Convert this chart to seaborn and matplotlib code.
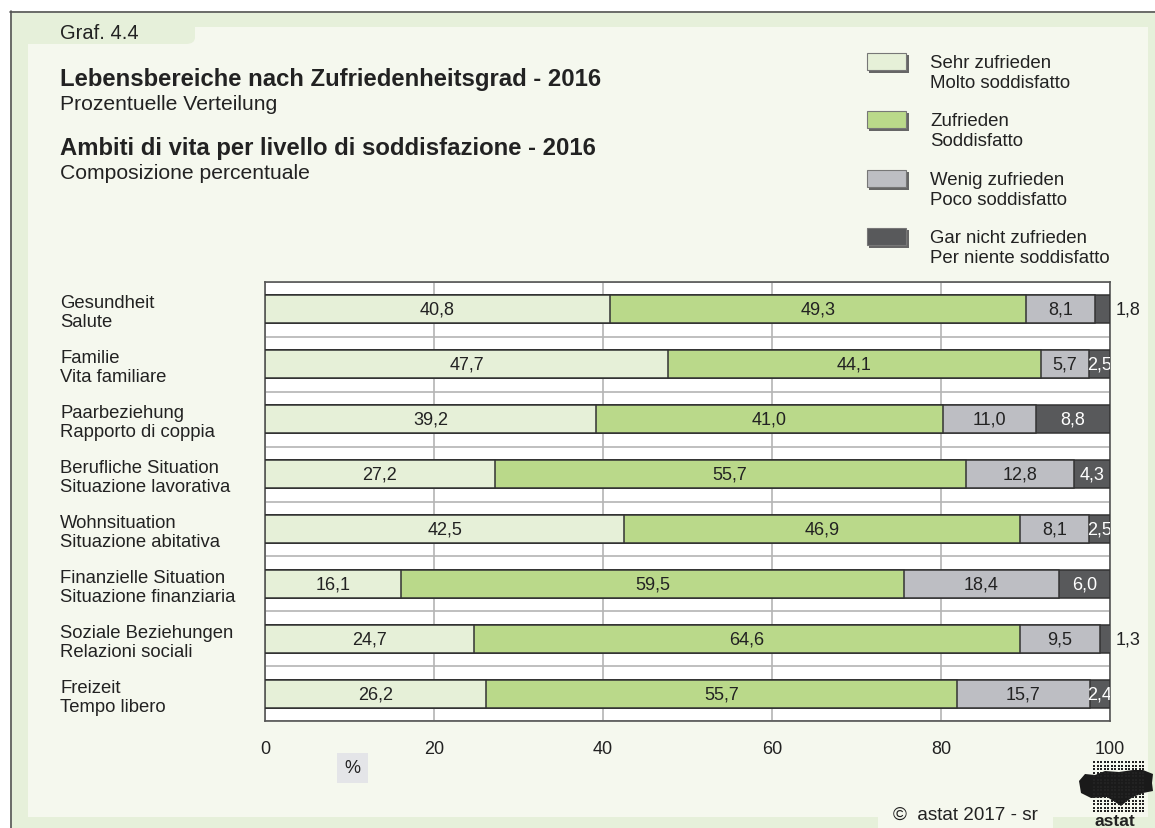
import numpy as np
import pandas as pd
import matplotlib
matplotlib.use("Agg")
import matplotlib.pyplot as plt
import seaborn as sns
from matplotlib.patches import Rectangle, FancyBboxPatch, Polygon

# --- data -------------------------------------------------------------
areas_de = ["Gesundheit", "Familie", "Paarbeziehung", "Berufliche Situation",
            "Wohnsituation", "Finanzielle Situation", "Soziale Beziehungen", "Freizeit"]
areas_it = ["Salute", "Vita familiare", "Rapporto di coppia", "Situazione lavorativa",
            "Situazione abitativa", "Situazione finanziaria", "Relazioni sociali", "Tempo libero"]

sehr_zufrieden = [40.8, 47.7, 39.2, 27.2, 42.5, 16.1, 24.7, 26.2]
zufrieden      = [49.3, 44.1, 41.0, 55.7, 46.9, 59.5, 64.6, 55.7]
wenig_zufrieden = [8.1, 5.7, 11.0, 12.8, 8.1, 18.4, 9.5, 15.7]
gar_nicht      = [1.8, 2.5, 8.8, 4.3, 2.5, 6.0, 1.3, 2.4]

levels_de = ["Sehr zufrieden", "Zufrieden", "Wenig zufrieden", "Gar nicht zufrieden"]
levels_it = ["Molto soddisfatto", "Soddisfatto", "Poco soddisfatto", "Per niente soddisfatto"]
level_colors = ["#E6F0D8", "#BAD98A", "#BDBEC3", "#58595B"]
label_colors = ["#222222", "#222222", "#222222", "#FFFFFF"]

x_ticks = [0, 20, 40, 60, 80, 100]

# --- styling ----------------------------------------------------------
sns.set_theme(style="white")
plt.rcParams["font.family"] = ["Liberation Sans", "DejaVu Sans"]
FS = 13
TXT = "#222222"

W, H = 1155, 829
fig = plt.figure(figsize=(W / 100, H / 100), dpi=100)
fig.patch.set_facecolor("white")

def fx(px):
    return px / W

def fy(py):
    return 1 - py / H

OUTER = "#E6F0DA"
PANEL = "#F5F8EE"

def fig_rect(x0, y0, x1, y1, z, **kw):
    """Rectangle given by pixel corners (top-left origin)."""
    p = Rectangle((fx(x0), fy(y1)), fx(x1 - x0), fy(y0) - fy(y1),
                  transform=fig.transFigure, zorder=z, **kw)
    fig.patches.append(p)
    return p

def fig_round(x0, y0, x1, y1, z, color):
    p = FancyBboxPatch((fx(x0), fy(y1)), fx(x1 - x0), fy(y0) - fy(y1),
                       boxstyle="round,pad=0,rounding_size=0.008",
                       transform=fig.transFigure, facecolor=color,
                       edgecolor="none", zorder=z)
    fig.patches.append(p)
    return p

# outer frame and inner panel
fig_rect(10, 12, 1155, 829, -5, facecolor=OUTER, edgecolor="none")
fig.lines.append(plt.Line2D([fx(10.5), fx(10.5)], [fy(12), fy(829)], color="#555555",
                            lw=1.2, transform=fig.transFigure, zorder=-1))
fig.lines.append(plt.Line2D([fx(10), fx(1155)], [fy(12.5), fy(12.5)], color="#555555",
                            lw=1.2, transform=fig.transFigure, zorder=-1))
fig_rect(28, 28, 1148, 818, -4, facecolor=PANEL, edgecolor="none")
# tab carrying the chart number
fig_round(20, 18, 195, 45, -3, OUTER)
# tab carrying the copyright
fig_round(878, 795, 1053, 840, -3, PANEL)

# --- header texts -----------------------------------------------------
fig.text(fx(60), fy(39), "Graf. 4.4", fontsize=14.5, color=TXT, va="baseline")
fig.text(fx(60), fy(86), "Lebensbereiche nach Zufriedenheitsgrad - 2016",
         fontsize=17.2, fontweight="bold", color=TXT, va="baseline")
fig.text(fx(60), fy(110), "Prozentuelle Verteilung", fontsize=15.2, color=TXT, va="baseline")
fig.text(fx(60), fy(155), "Ambiti di vita per livello di soddisfazione - 2016",
         fontsize=17.2, fontweight="bold", color=TXT, va="baseline")
fig.text(fx(60), fy(179), "Composizione percentuale", fontsize=15.2, color=TXT, va="baseline")

# --- legend -----------------------------------------------------------
for i, (de, it, col) in enumerate(zip(levels_de, levels_it, level_colors)):
    top = 54 + i * 58.3
    # drop shadow
    fig_rect(869, top + 2, 909, top + 20, 2, facecolor="#666666", edgecolor="none")
    fig_rect(867, top, 906, top + 17, 3, facecolor=col, edgecolor="#777777", lw=0.8)
    fig.text(fx(930), fy(top + 14), de, fontsize=13.4, color=TXT, va="baseline")
    fig.text(fx(930), fy(top + 34), it, fontsize=13.4, color=TXT, va="baseline")

# --- bar chart --------------------------------------------------------
ax = fig.add_axes([fx(265), fy(722), fx(1110 - 265), fy(283) - fy(722)])
ax.set_zorder(1)
ax.set_facecolor("white")

labels = [f"{d}\n{i}" for d, i in zip(areas_de, areas_it)]
segments = [sehr_zufrieden, zufrieden, wenig_zufrieden, gar_nicht]
cum = np.cumsum(np.array(segments), axis=0)

df = pd.DataFrame({"area": labels})
for k in range(4):
    df[f"c{k}"] = cum[k]

# stack by overlaying cumulative totals, widest first
for k in range(3, -1, -1):
    sns.barplot(data=df, x=f"c{k}", y="area", orient="h", color=level_colors[k],
                saturation=1, width=0.51, edgecolor="#333333", linewidth=1.1,
                errorbar=None, ax=ax, zorder=3)

# value labels
for k in range(4):
    for r in range(len(labels)):
        v = segments[k][r]
        start = cum[k][r] - v
        txt = f"{v:.1f}".replace(".", ",")
        if k == 3 and v < 2:
            ax.text(min(cum[k][r], 100) + 0.7, r, txt, ha="left", va="center",
                    fontsize=FS, color=TXT, clip_on=False, zorder=5)
        else:
            ax.text(start + v / 2, r, txt, ha="center", va="center",
                    fontsize=FS, color=label_colors[k], clip_on=True, zorder=5)

ax.set_xlim(0, 100)
ax.set_ylim(len(labels) - 0.5, -0.5)
ax.set_xticks(x_ticks)
ax.set_xticklabels([str(t) for t in x_ticks], fontsize=FS, color=TXT)
ax.set_yticks(range(len(labels)))
ax.set_yticklabels(labels, fontsize=13.3, color=TXT, ha="left", linespacing=1.15)
ax.set_yticks(np.arange(-0.5, len(labels), 1.0), minor=True)
ax.tick_params(axis="y", which="major", length=0, pad=(265 - 60) * 0.72)
ax.tick_params(axis="x", length=0, pad=14)
ax.tick_params(axis="y", which="minor", length=0)
ax.set_xlabel("")
ax.set_ylabel("")

ax.set_axisbelow(True)
ax.grid(False)
ax.grid(axis="x", which="major", color="#B4B4B4", lw=1.2, zorder=0)
ax.grid(axis="y", which="minor", color="#B4B4B4", lw=1.2, zorder=0)
for s in ax.spines.values():
    s.set_color("#555555")
    s.set_linewidth(1.2)
    s.set_visible(True)

# unit box
fig_rect(337, 754, 368, 784, 2, facecolor="#E4E5E8", edgecolor="none")
fig.text(fx(352.5), fy(769), "%", fontsize=FS, color=TXT, ha="center", va="center")

# copyright
fig.text(fx(893), fy(820), "©  astat 2017 - sr", fontsize=13.6, color=TXT, va="baseline")

# --- logo -------------------------------------------------------------
logo = fig.add_axes([fx(1075), fy(829), fx(80), fy(758) - fy(829)])
logo.set_zorder(1)
logo.set_xlim(0, 80)
logo.set_ylim(71, 0)
logo.axis("off")
logo.add_patch(Polygon([(4, 24), (10, 17), (20, 18), (30, 14), (44, 15), (58, 13),
                        (68, 13), (78, 17), (77, 26), (78, 34), (68, 36), (58, 40),
                        (52, 44), (46, 49), (40, 45), (32, 40), (16, 41), (6, 36)],
                       closed=True, facecolor="#1A1A1A", edgecolor="none", zorder=1))
gx, gy = np.meshgrid(np.arange(19, 69, 3.5), np.arange(5, 56, 3.5))
logo.scatter(gx.ravel(), gy.ravel(), s=2.2, marker="s", color="#222222",
             linewidths=0, zorder=2)
logo.text(40, 68, "astat", fontsize=12.5, fontweight="bold", color="#222222",
          ha="center", va="baseline")

fig.savefig("out.png", dpi=100, facecolor=fig.get_facecolor())
